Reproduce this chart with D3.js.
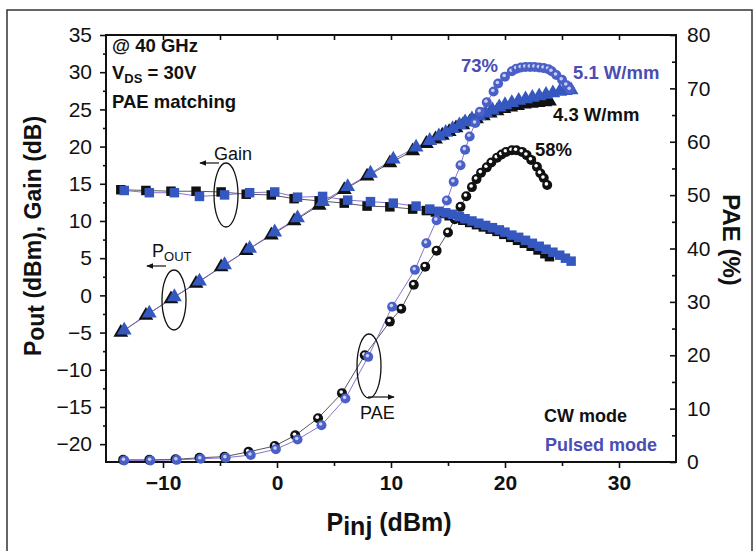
<!DOCTYPE html>
<html>
<head>
<meta charset="utf-8">
<script src="https://cdn.jsdelivr.net/npm/d3@7"></script>
<style>
  body{margin:0;background:#fff;}
  svg{display:block;}
  text{font-family:Arial,"Liberation Sans",Helvetica,sans-serif;}
</style>
</head>
<body>
<svg id="chart"></svg>
<script>
// ---- data ----
// Pout / Gain, CW mode (black)
const cwX    = [-13.7,-11.5,-9.3,-7.1,-4.9,-2.7,-0.5,1.5,3.7,5.9,7.9,9.9,11.9,13.1,13.9,14.5,15.1,15.7,16.3,16.9,17.5,18.1,18.7,19.3,19.9,20.5,21.1,21.7,22.3,22.9,23.5,23.9];
const cwPout = [-5.0,-2.7,-0.5,1.6,3.8,6.0,8.1,10.0,12.1,14.2,16.0,17.8,19.4,20.4,21.0,21.5,22.0,22.5,22.9,23.3,23.7,24.1,24.5,24.8,25.1,25.3,25.5,25.7,25.8,25.9,26.0,26.1];
const cwGain = [14.2,14.1,14.0,14.0,13.9,13.6,13.5,13.0,12.7,12.4,12.0,11.9,11.6,11.4,11.2,11.0,10.7,10.4,10.1,9.8,9.5,9.2,8.9,8.6,8.2,7.8,7.4,7.0,6.6,6.1,5.6,5.2];

// Pout / Gain, pulsed mode (blue)
const pulsedX    = [-13.4,-11.2,-9.0,-6.8,-4.6,-2.4,-0.2,1.8,4.0,6.2,8.2,10.2,12.2,13.4,14.2,14.8,15.4,16.0,16.5,17.1,17.7,18.3,18.9,19.5,20.0,20.6,21.2,21.8,22.4,23.0,23.6,24.2,24.8,25.3,25.8];
const pulsedPout = [-4.7,-2.4,-0.2,1.9,4.1,6.3,8.5,10.4,12.6,14.6,16.4,18.3,19.9,20.8,21.4,21.9,22.4,22.9,23.3,23.7,24.1,24.5,24.9,25.3,25.6,25.9,26.2,26.4,26.6,26.8,27.0,27.2,27.4,27.5,27.6];
const pulsedGain = [14.1,13.8,13.8,13.3,13.5,13.8,13.9,13.2,13.3,12.8,12.6,12.4,12.0,11.6,11.3,11.1,10.9,10.6,10.3,10.0,9.7,9.4,9.1,8.8,8.5,8.1,7.8,7.4,7.0,6.6,6.2,5.8,5.4,5.0,4.6];

// PAE (%), right axis
const cwPaeX = [-13.5,-11.2,-8.9,-6.8,-4.6,-2.5,-0.2,1.6,3.6,5.7,7.7,9.9,10.9,12.0,13.0,14.0,15.0,15.6,16.1,16.6,17.1,17.5,17.9,18.4,18.8,19.3,19.7,20.1,20.6,21.0,21.5,21.9,22.3,22.8,23.1,23.4,23.7];
const cwPae  = [0.4,0.4,0.5,0.8,1.0,1.9,3.0,5.0,8.2,12.9,20.0,26.3,28.7,33.2,36.6,39.6,43.0,45.5,47.8,49.8,51.5,53.0,54.2,55.2,56.1,57.0,57.6,58.1,58.4,58.4,58.1,57.5,56.6,55.3,54.1,53.2,51.9];
const pulsedPaeX = [-13.4,-11.1,-8.8,-6.7,-4.5,-2.3,-0.1,1.8,3.9,6.0,8.0,10.1,12.1,13.1,14.0,14.9,15.5,16.1,16.5,16.9,17.4,17.8,18.4,19.0,19.4,20.0,20.6,21.0,21.4,21.8,22.2,22.6,23.0,23.4,23.8,24.1,24.5,25.0,25.4,25.7];
const pulsedPae  = [0.3,0.3,0.4,0.6,0.8,1.3,2.4,4.2,6.9,11.9,19.7,29.1,36.0,41.0,45.3,49.0,52.5,55.6,58.5,61.0,63.5,65.6,67.4,69.4,70.9,72.2,73.2,73.7,73.9,74.0,74.0,74.0,73.9,73.8,73.6,73.2,72.5,71.6,70.6,69.8];

// ticks
const xTicks = [-10,0,10,20,30];
const xMinor = [-5,5,15,25];
const leftTicks = [-20,-15,-10,-5,0,5,10,15,20,25,30,35];
const leftMinor = [-17.5,-12.5,-7.5,-2.5,2.5,7.5,12.5,17.5,22.5,27.5,32.5];
const rightTicks = [0,10,20,30,40,50,60,70,80];
const rightMinor = [5,15,25,35,45,55,65,75];

// ---- layout ----
const W = 756, H = 551;
const m = {left:106, right:80, top:35, bottom:89};
const iw = W - m.left - m.right, ih = H - m.top - m.bottom;

const blue = "#3558c0", blueText = "#4a4db3", blueLine = "#7a62c8";
const dark = "#111";

const svg = d3.select("#chart").attr("width", W).attr("height", H);

// outer frame of the figure
svg.append("rect").attr("x",7).attr("y",10).attr("width",745).attr("height",560)
  .attr("fill","#fff").attr("stroke","#333").attr("stroke-width",1.5);

const g = svg.append("g").attr("transform",`translate(${m.left},${m.top})`);

const x = d3.scaleLinear().domain([-15,35]).range([0,iw]);
const yL = d3.scaleLinear().domain([-22.4,35]).range([ih,0]);
const yR = d3.scaleLinear().domain([0,80]).range([ih,0]);

function styleAxis(sel){
  sel.select(".domain").remove();
  sel.selectAll(".tick line").attr("stroke",dark).attr("stroke-width",1.6);
  sel.selectAll("text").attr("fill",dark);
}

// bottom
g.append("g").attr("transform",`translate(0,${ih})`)
  .call(d3.axisBottom(x).tickValues(xTicks).tickSize(6).tickPadding(7).tickFormat(d3.format("d")))
  .call(styleAxis)
  .selectAll("text").attr("font-size",21).attr("font-weight","bold");
g.append("g").attr("transform",`translate(0,${ih})`)
  .call(d3.axisBottom(x).tickValues(xMinor).tickSize(4).tickFormat(""))
  .call(styleAxis);
// top (inward ticks)
g.append("g")
  .call(d3.axisTop(x).tickValues(xTicks.concat(xMinor)).tickSizeInner(-5).tickFormat(""))
  .call(styleAxis);
// left
g.append("g")
  .call(d3.axisLeft(yL).tickValues(leftTicks).tickSize(6).tickPadding(8))
  .call(styleAxis)
  .selectAll("text").attr("font-size",21);
g.append("g")
  .call(d3.axisLeft(yL).tickValues(leftMinor).tickSize(3).tickFormat(""))
  .call(styleAxis);
// right (inward ticks, labels outside)
g.append("g").attr("transform",`translate(${iw},0)`)
  .call(d3.axisRight(yR).tickValues(rightTicks).tickSizeInner(-6).tickPadding(11))
  .call(styleAxis)
  .selectAll("text").attr("font-size",21);
g.append("g").attr("transform",`translate(${iw},0)`)
  .call(d3.axisRight(yR).tickValues(rightMinor).tickSizeInner(-4).tickFormat(""))
  .call(styleAxis);

// plot frame
g.append("rect").attr("width",iw).attr("height",ih)
  .attr("fill","none").attr("stroke",dark).attr("stroke-width",2);

// ---- series ----
const zip = (xs, ys) => xs.map((v,i) => [v, ys[i]]);
const series = [
  {pts: zip(cwX, cwGain),       y: yL, mark: "square",   color: dark, line: "#444"},
  {pts: zip(cwX, cwPout),       y: yL, mark: "triangle", color: dark, line: "#444"},
  {pts: zip(cwPaeX, cwPae),     y: yR, mark: "circle",   color: dark, line: "#444", hl: "#fff"},
  {pts: zip(pulsedX, pulsedGain),  y: yL, mark: "square",   color: blue, line: blueLine},
  {pts: zip(pulsedX, pulsedPout),  y: yL, mark: "triangle", color: blue, line: blueLine},
  {pts: zip(pulsedPaeX, pulsedPae),y: yR, mark: "circle",   color: "#4a5fc8", line: blueLine, hl: "#c8d0f2"}
];

const plot = g.append("g");
// connecting lines first
series.forEach(s => {
  plot.append("path")
    .attr("d", d3.line().x(d => x(d[0])).y(d => s.y(d[1]))(s.pts))
    .attr("fill","none").attr("stroke",s.line).attr("stroke-width",0.9);
});

const sym = {
  square: d3.symbol().type(d3.symbolSquare).size(90),
  triangle: d3.symbol().type(d3.symbolTriangle).size(95)
};

series.forEach(s => {
  const grp = plot.append("g");
  if (s.mark === "circle") {
    const c = grp.selectAll("g").data(s.pts).join("g")
      .attr("transform", d => `translate(${x(d[0])},${s.y(d[1])})`);
    c.append("circle").attr("r",5).attr("fill",s.color);
    c.append("circle").attr("r",1.8).attr("cx",-0.8).attr("cy",-1.1).attr("fill",s.hl);
  } else {
    grp.selectAll("path").data(s.pts).join("path")
      .attr("d", sym[s.mark])
      .attr("transform", d => `translate(${x(d[0])},${s.y(d[1])})`)
      .attr("fill", s.color);
  }
});

// ---- annotations ----
const ann = svg.append("g");
function label(txt, px, py, opts = {}) {
  return ann.append("text").attr("x",px).attr("y",py)
    .attr("font-size",opts.size || 18.5)
    .attr("font-weight",opts.weight || "bold")
    .attr("fill",opts.fill || dark)
    .attr("text-anchor",opts.anchor || "start")
    .text(txt);
}
label("@ 40 GHz", 112, 52);
const vds = label("V", 112, 79);
vds.append("tspan").attr("font-size",13).attr("dy",4).text("DS");
vds.append("tspan").attr("dy",-4).text(" = 30V");
label("PAE matching", 112, 108);

label("73%", 461, 72, {fill: blueText});
label("5.1 W/mm", 573, 79, {fill: blueText});
label("4.3 W/mm", 553, 121);
label("58%", 535, 156);
label("CW mode", 544, 422, {size: 18});
label("Pulsed mode", 545, 451, {size: 18, fill: blueText});

// series call-outs (ellipse + arrow)
ann.append("defs").append("marker").attr("id","ah")
  .attr("viewBox","0 0 10 10").attr("refX",9).attr("refY",5)
  .attr("markerWidth",6).attr("markerHeight",6).attr("orient","auto")
  .append("path").attr("d","M0,1 L10,5 L0,9 Z").attr("fill",dark);

function callout(cx, cy, rx, ry, ax1, ax2, ay) {
  ann.append("ellipse").attr("cx",cx).attr("cy",cy).attr("rx",rx).attr("ry",ry)
    .attr("fill","none").attr("stroke",dark).attr("stroke-width",1.3);
  ann.append("line").attr("x1",ax1).attr("x2",ax2).attr("y1",ay).attr("y2",ay)
    .attr("stroke",dark).attr("stroke-width",1.2).attr("marker-end","url(#ah)");
}
callout(226, 195, 12, 32, 219, 200, 163);
label("Gain", 214, 160, {weight: "normal", size: 18});
callout(174, 300, 12, 30, 166, 147, 266);
const po = label("P", 152, 257, {weight: "normal", size: 18});
po.append("tspan").attr("font-size",13).attr("dy",4).text("OUT");
callout(369, 366, 12, 32, 368, 394, 397);
label("PAE", 360, 419, {weight: "normal", size: 18});

// axis titles
const lt = svg.append("text").attr("transform","translate(41,236) rotate(-90)")
  .attr("text-anchor","middle").attr("font-size",23).attr("font-weight","bold").attr("fill",dark);
lt.append("tspan").text("P");
lt.append("tspan").attr("dy",3).text("out");
lt.append("tspan").attr("dy",-3).text(" (dBm), Gain (dB)");

svg.append("text").attr("transform","translate(723,240) rotate(90)")
  .attr("text-anchor","middle").attr("font-size",24).attr("font-weight","bold").attr("fill",dark)
  .text("PAE (%)");

const bt = svg.append("text").attr("x",389).attr("y",531)
  .attr("text-anchor","middle").attr("font-size",25).attr("font-weight","bold").attr("fill",dark);
bt.append("tspan").text("P");
bt.append("tspan").attr("dy",4).text("inj");
bt.append("tspan").attr("dy",-4).text(" (dBm)");
</script>
</body>
</html>
